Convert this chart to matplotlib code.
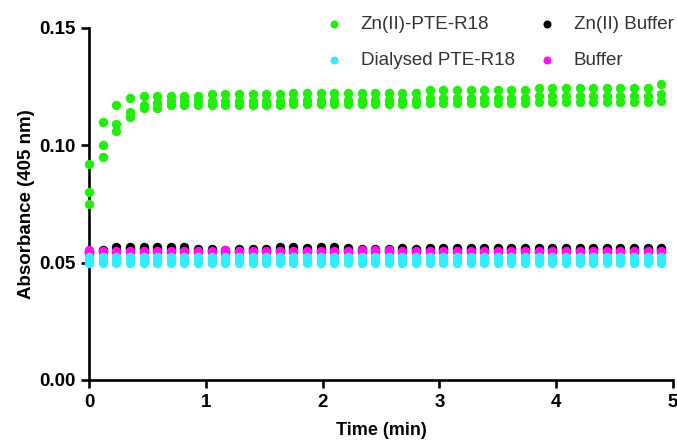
import matplotlib.pyplot as plt

plt.rcParams['font.family'] = ['Liberation Sans', 'DejaVu Sans']

# sampling times (s)
time_s = [0, 7, 14, 21, 28, 35, 42, 49, 56, 63, 70, 77, 84, 91, 98, 105, 112,
          119, 126, 133, 140, 147, 154, 161, 168, 175, 182, 189, 196, 203, 210,
          217, 224, 231, 238, 245, 252, 259, 266, 273, 280, 287, 294]

# Zn(II)-PTE-R18, three replicates
zn_pte_1 = [0.092, 0.110, 0.117, 0.120, 0.121, 0.121, 0.121, 0.121, 0.121, 0.122,
            0.122, 0.122, 0.122, 0.122, 0.122, 0.1225, 0.1225, 0.1225, 0.1225,
            0.1225, 0.1225, 0.1225, 0.1225, 0.1225, 0.1225, 0.1235, 0.1235,
            0.1235, 0.1235, 0.1235, 0.1235, 0.1235, 0.1235, 0.1245, 0.1245,
            0.1245, 0.1245, 0.1245, 0.1245, 0.1245, 0.1245, 0.1245, 0.126]
zn_pte_2 = [0.080, 0.100, 0.109, 0.114, 0.117, 0.118, 0.119, 0.119, 0.119, 0.119,
            0.119, 0.119, 0.119, 0.119, 0.119, 0.1195, 0.1195, 0.1195, 0.1195,
            0.1195, 0.1195, 0.1195, 0.1195, 0.1195, 0.1195, 0.120, 0.120, 0.120,
            0.120, 0.120, 0.120, 0.120, 0.120, 0.121, 0.121, 0.121, 0.121, 0.121,
            0.121, 0.121, 0.121, 0.121, 0.122]
zn_pte_3 = [0.075, 0.095, 0.106, 0.112, 0.116, 0.116, 0.117, 0.117, 0.117, 0.117,
            0.117, 0.117, 0.117, 0.117, 0.117, 0.1175, 0.1175, 0.1175, 0.1175,
            0.1175, 0.1175, 0.1175, 0.1175, 0.1175, 0.1175, 0.118, 0.118, 0.118,
            0.118, 0.118, 0.118, 0.118, 0.118, 0.1185, 0.1185, 0.1185, 0.1185,
            0.1185, 0.1185, 0.1185, 0.1185, 0.1185, 0.119]

# Zn(II) Buffer
zn_buf_1 = [0.0548, 0.0556, 0.0565, 0.0566, 0.0566, 0.0566, 0.0566, 0.0567,
            0.0558, 0.0557, 0.0553, 0.0557, 0.0557, 0.0558, 0.0565, 0.0565,
            0.0564, 0.0565, 0.0565, 0.0564, 0.0558, 0.0557, 0.0557, 0.0562,
            0.0560, 0.0562, 0.0563, 0.0562, 0.0563, 0.0563, 0.0562, 0.0563,
            0.0564, 0.0563, 0.0563, 0.0564, 0.0563, 0.0564, 0.0563, 0.0564,
            0.0564, 0.0563, 0.0564]
zn_buf_2 = [0.0542, 0.0548, 0.0556, 0.0557, 0.0557, 0.0556, 0.0557, 0.0558,
            0.0550, 0.0549, 0.0546, 0.0549, 0.0549, 0.0550, 0.0556, 0.0556,
            0.0555, 0.0556, 0.0556, 0.0555, 0.0550, 0.0549, 0.0549, 0.0553,
            0.0552, 0.0553, 0.0554, 0.0553, 0.0554, 0.0554, 0.0553, 0.0554,
            0.0555, 0.0554, 0.0554, 0.0555, 0.0554, 0.0555, 0.0554, 0.0555,
            0.0555, 0.0554, 0.0555]

# Buffer
buf_1 = [0.0552, 0.0551, 0.0550, 0.0550, 0.0550, 0.0550, 0.0550, 0.0550,
         0.0550, 0.0550, 0.0552, 0.0550, 0.0550, 0.0550, 0.0550, 0.0550,
         0.0550, 0.0550, 0.0550, 0.0550, 0.0553, 0.0553, 0.0552, 0.0550,
         0.0551, 0.0550, 0.0550, 0.0550, 0.0550, 0.0550, 0.0550, 0.0550,
         0.0550, 0.0550, 0.0550, 0.0550, 0.0550, 0.0550, 0.0550, 0.0550,
         0.0550, 0.0550, 0.0550]
buf_2 = [0.0546, 0.0545, 0.0544, 0.0544, 0.0544, 0.0544, 0.0544, 0.0544,
         0.0544, 0.0544, 0.0546, 0.0544, 0.0544, 0.0544, 0.0544, 0.0544,
         0.0544, 0.0544, 0.0544, 0.0544, 0.0547, 0.0547, 0.0546, 0.0544,
         0.0545, 0.0544, 0.0544, 0.0544, 0.0544, 0.0544, 0.0544, 0.0544,
         0.0544, 0.0544, 0.0544, 0.0544, 0.0544, 0.0544, 0.0544, 0.0544,
         0.0544, 0.0544, 0.0544]

# Dialysed PTE-R18
dial_1 = [0.0522, 0.0522, 0.0522, 0.0522, 0.0522, 0.0522, 0.0522, 0.0522,
          0.0522, 0.0522, 0.0522, 0.0522, 0.0522, 0.0522, 0.0522, 0.0522,
          0.0522, 0.0522, 0.0522, 0.0522, 0.0522, 0.0522, 0.0522, 0.0522,
          0.0522, 0.0522, 0.0522, 0.0522, 0.0522, 0.0522, 0.0522, 0.0522,
          0.0522, 0.0522, 0.0522, 0.0522, 0.0522, 0.0522, 0.0522, 0.0522,
          0.0522, 0.0522, 0.0522]
dial_2 = [0.0510, 0.0510, 0.0510, 0.0510, 0.0510, 0.0510, 0.0510, 0.0510,
          0.0510, 0.0510, 0.0510, 0.0510, 0.0510, 0.0510, 0.0510, 0.0510,
          0.0510, 0.0510, 0.0510, 0.0510, 0.0510, 0.0510, 0.0510, 0.0510,
          0.0510, 0.0510, 0.0510, 0.0510, 0.0510, 0.0510, 0.0510, 0.0510,
          0.0510, 0.0510, 0.0510, 0.0510, 0.0510, 0.0510, 0.0510, 0.0510,
          0.0510, 0.0510, 0.0510]
dial_3 = [0.0498, 0.0498, 0.0498, 0.0498, 0.0498, 0.0498, 0.0498, 0.0498,
          0.0498, 0.0498, 0.0498, 0.0498, 0.0498, 0.0498, 0.0498, 0.0498,
          0.0498, 0.0498, 0.0498, 0.0498, 0.0498, 0.0498, 0.0498, 0.0498,
          0.0498, 0.0498, 0.0498, 0.0498, 0.0498, 0.0498, 0.0498, 0.0498,
          0.0498, 0.0498, 0.0498, 0.0498, 0.0498, 0.0498, 0.0498, 0.0498,
          0.0498, 0.0498, 0.0498]

green = '#22EE0C'
cyan = '#33ECFF'
magenta = '#FF10F0'
black = '#000000'

t_min = [t / 60 for t in time_s]

fig = plt.figure(figsize=(6.77, 4.42), dpi=100)
ax = fig.add_axes([0.1315, 0.1403, 0.8625, 0.7964])

ms = 46

def dots(ys, color, label=None):
    return ax.scatter(t_min, ys, s=ms, color=color, linewidths=0,
                      clip_on=False, zorder=3, label=label)

h_green = dots(zn_pte_1, green, 'Zn(II)-PTE-R18')
dots(zn_pte_2, green)
dots(zn_pte_3, green)
h_black = dots(zn_buf_1, black, 'Zn(II) Buffer')
dots(zn_buf_2, black)
h_mag = dots(buf_1, magenta, 'Buffer')
dots(buf_2, magenta)
h_cyan = dots(dial_1, cyan, 'Dialysed PTE-R18')
dots(dial_2, cyan)
dots(dial_3, cyan)

ax.set_xlim(0, 5)
ax.set_ylim(0, 0.15)
ax.set_xticks([0, 1, 2, 3, 4, 5])
ax.set_yticks([0.00, 0.05, 0.10, 0.15])
ax.set_yticklabels(['0.00', '0.05', '0.10', '0.15'])

for side in ['top', 'right']:
    ax.spines[side].set_visible(False)
for side in ['left', 'bottom']:
    ax.spines[side].set_linewidth(1.9)

ax.tick_params(width=1.9, length=6, labelsize=13.5, pad=4)
for lab in ax.get_xticklabels() + ax.get_yticklabels():
    lab.set_fontweight('bold')

ax.set_xlabel('Time (min)', fontsize=13, fontweight='bold', labelpad=8)
ax.set_ylabel('Absorbance (405 nm)', fontsize=13.5, fontweight='bold', labelpad=3)

leg = ax.legend(handles=[h_green, h_cyan, h_black, h_mag], ncol=2,
                loc='upper left', bbox_to_anchor=(0.454, 1.003),
                bbox_transform=fig.transFigure, frameon=False,
                fontsize=13.5, labelspacing=1.0, columnspacing=1.2,
                handlelength=1.0, handletextpad=0.95, scatterpoints=1,
                markerscale=0.85)
for txt in leg.get_texts():
    txt.set_color('#333333')

fig.savefig('out.png', dpi=100)
plt.close()
